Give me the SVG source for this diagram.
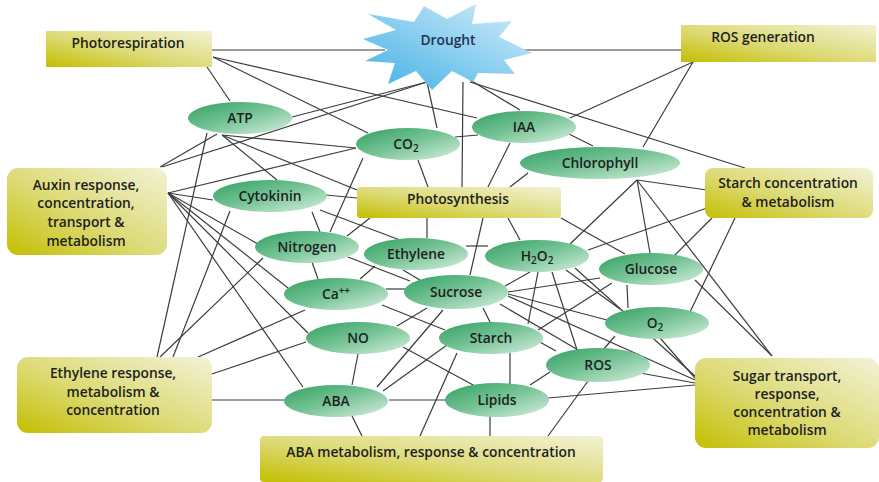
<svg xmlns="http://www.w3.org/2000/svg" width="879" height="482" viewBox="0 0 879 482">
<defs>
<linearGradient id="gBox" x1="0" y1="1" x2="1" y2="0">
<stop offset="0" stop-color="#c4be00"/>
<stop offset="0.45" stop-color="#dcda74"/>
<stop offset="1" stop-color="#f3f2d6"/>
</linearGradient>
<linearGradient id="gEll" x1="0" y1="0" x2="1" y2="1">
<stop offset="0" stop-color="#30a060"/>
<stop offset="0.5" stop-color="#78c497"/>
<stop offset="1" stop-color="#d8f0e0"/>
</linearGradient>
<linearGradient id="gStar" x1="0" y1="1" x2="1" y2="0">
<stop offset="0" stop-color="#3fb0e6"/>
<stop offset="0.5" stop-color="#8ccff0"/>
<stop offset="1" stop-color="#d6eefa"/>
</linearGradient>
</defs>
<style>
.edge line{stroke:#3c3c3c;stroke-width:1.2;fill:none}
.box{fill:url(#gBox)}
.ell{fill:url(#gEll)}
text{font-family:"Open Sans","Noto Sans","Liberation Sans",sans-serif;font-size:13.8px;font-weight:600;fill:#1e1e1e;text-anchor:middle}
.sub{font-size:10px}
</style>
<rect width="879" height="482" fill="#ffffff"/>
<g id="connectors" class="edge">
<line x1="212" y1="50" x2="385" y2="50"/>
<line x1="213" y1="57" x2="477" y2="118"/>
<line x1="213" y1="57" x2="368" y2="133"/>
<line x1="207" y1="67" x2="230" y2="101"/>
<line x1="520" y1="50" x2="681" y2="50"/>
<line x1="427" y1="82" x2="292" y2="117"/>
<line x1="427" y1="82" x2="162" y2="167"/>
<line x1="427" y1="82" x2="437" y2="128"/>
<line x1="470" y1="80" x2="520" y2="110"/>
<line x1="463" y1="82" x2="462" y2="187"/>
<line x1="470" y1="82" x2="745" y2="168"/>
<line x1="693" y1="62" x2="570" y2="118"/>
<line x1="693" y1="62" x2="643" y2="147"/>
<line x1="455" y1="137" x2="478" y2="135"/>
<line x1="567" y1="133" x2="593" y2="146"/>
<line x1="510" y1="143" x2="488" y2="187"/>
<line x1="528" y1="173" x2="510" y2="187"/>
<line x1="637" y1="180" x2="707" y2="190"/>
<line x1="637" y1="180" x2="570" y2="244"/>
<line x1="637" y1="180" x2="650" y2="253"/>
<line x1="637" y1="180" x2="772" y2="356"/>
<line x1="707" y1="208" x2="588" y2="250"/>
<line x1="712" y1="218" x2="673" y2="257"/>
<line x1="735" y1="218" x2="690" y2="312"/>
<line x1="561" y1="218" x2="625" y2="254"/>
<line x1="508" y1="218" x2="520" y2="240"/>
<line x1="483" y1="218" x2="470" y2="275"/>
<line x1="427" y1="218" x2="427" y2="238"/>
<line x1="370" y1="218" x2="347" y2="236"/>
<line x1="418" y1="160" x2="428" y2="187"/>
<line x1="222" y1="135" x2="357" y2="190"/>
<line x1="326" y1="195" x2="357" y2="198"/>
<line x1="222" y1="135" x2="356" y2="148"/>
<line x1="222" y1="135" x2="277" y2="180"/>
<line x1="207" y1="133" x2="157" y2="357"/>
<line x1="160" y1="167" x2="217" y2="134"/>
<line x1="363" y1="158" x2="330" y2="232"/>
<line x1="168" y1="193" x2="356" y2="148"/>
<line x1="168" y1="193" x2="213" y2="200"/>
<line x1="168" y1="193" x2="258" y2="244"/>
<line x1="168" y1="193" x2="288" y2="288"/>
<line x1="168" y1="193" x2="308" y2="333"/>
<line x1="168" y1="193" x2="303" y2="387"/>
<line x1="320" y1="210" x2="400" y2="240"/>
<line x1="312" y1="212" x2="320" y2="232"/>
<line x1="230" y1="211" x2="173" y2="357"/>
<line x1="312" y1="262" x2="318" y2="279"/>
<line x1="348" y1="257" x2="410" y2="281"/>
<line x1="263" y1="258" x2="160" y2="357"/>
<line x1="466" y1="246" x2="488" y2="246"/>
<line x1="375" y1="266" x2="360" y2="279"/>
<line x1="403" y1="270" x2="420" y2="280"/>
<line x1="386" y1="289" x2="405" y2="289"/>
<line x1="382" y1="305" x2="445" y2="330"/>
<line x1="305" y1="310" x2="198" y2="357"/>
<line x1="508" y1="292" x2="600" y2="278"/>
<line x1="505" y1="286" x2="530" y2="272"/>
<line x1="508" y1="294" x2="607" y2="320"/>
<line x1="508" y1="296" x2="695" y2="380"/>
<line x1="500" y1="304" x2="578" y2="350"/>
<line x1="483" y1="308" x2="490" y2="322"/>
<line x1="427" y1="308" x2="397" y2="326"/>
<line x1="443" y1="310" x2="377" y2="387"/>
<line x1="538" y1="272" x2="528" y2="324"/>
<line x1="552" y1="272" x2="577" y2="350"/>
<line x1="566" y1="270" x2="620" y2="309"/>
<line x1="575" y1="268" x2="695" y2="376"/>
<line x1="627" y1="285" x2="628" y2="308"/>
<line x1="612" y1="283" x2="538" y2="330"/>
<line x1="695" y1="280" x2="772" y2="356"/>
<line x1="615" y1="336" x2="603" y2="350"/>
<line x1="660" y1="338" x2="695" y2="378"/>
<line x1="640" y1="373" x2="695" y2="383"/>
<line x1="588" y1="381" x2="548" y2="436"/>
<line x1="550" y1="372" x2="530" y2="385"/>
<line x1="538" y1="341" x2="556" y2="351"/>
<line x1="389" y1="400" x2="446" y2="400"/>
<line x1="510" y1="353" x2="510" y2="384"/>
<line x1="403" y1="347" x2="475" y2="386"/>
<line x1="490" y1="416" x2="490" y2="436"/>
<line x1="548" y1="398" x2="695" y2="385"/>
<line x1="358" y1="354" x2="352" y2="385"/>
<line x1="352" y1="416" x2="362" y2="436"/>
<line x1="212" y1="400" x2="284" y2="400"/>
<line x1="457" y1="353" x2="420" y2="436"/>
<line x1="447" y1="345" x2="383" y2="391"/>
<line x1="306" y1="342" x2="212" y2="374"/>
</g>
<g id="drought">
<polygon fill="url(#gStar)" points="363,39 388,50 365,61 395,63 388,84 416,71 432,90 452,71 473,82 478,73 515,74 504,60 532,53 499,37 512,21 472,24 476,4 447,19 424,6 414,22 368,14 396,30"/>
<text x="448" y="45" style="fill:#1e3350">Drought</text>
</g>
<g id="photorespiration">
<rect class="box" x="46" y="31" width="166" height="36"/>
<text x="128" y="48">Photorespiration</text>
</g>
<g id="ros-generation">
<rect class="box" x="681" y="25" width="195" height="37"/>
<text x="763" y="42">ROS generation</text>
</g>
<g id="auxin">
<rect class="box" x="7" y="168" width="160" height="87" rx="11"/>
<text x="86" y="190">Auxin response,</text>
<text x="86" y="208">concentration,</text>
<text x="86" y="227">transport &amp;</text>
<text x="86" y="246">metabolism</text>
</g>
<g id="photosynthesis">
<rect class="box" x="357" y="187" width="204" height="31" rx="3"/>
<text x="458" y="204">Photosynthesis</text>
</g>
<g id="starch-conc">
<rect class="box" x="705" y="168" width="168" height="50" rx="8"/>
<text x="788" y="188">Starch concentration</text>
<text x="788" y="207">&amp; metabolism</text>
</g>
<g id="ethylene-response">
<rect class="box" x="17" y="357" width="195" height="76" rx="11"/>
<text x="113" y="378">Ethylene response,</text>
<text x="113" y="397">metabolism &amp;</text>
<text x="113" y="415">concentration</text>
</g>
<g id="aba-box">
<rect class="box" x="260" y="436" width="343" height="46" rx="4"/>
<text x="431" y="457">ABA metabolism, response &amp; concentration</text>
</g>
<g id="sugar-transport">
<rect class="box" x="695" y="358" width="184" height="90" rx="11"/>
<text x="787" y="381">Sugar transport,</text>
<text x="787" y="399">response,</text>
<text x="787" y="417">concentration &amp;</text>
<text x="787" y="435">metabolism</text>
</g>
<g id="atp"><ellipse class="ell" cx="240" cy="118" rx="52" ry="16"/><text x="240" y="123">ATP</text></g>
<g id="co2"><ellipse class="ell" cx="408" cy="144" rx="52" ry="16"/><text x="406" y="149">CO<tspan class="sub" dy="3">2</tspan></text></g>
<g id="iaa"><ellipse class="ell" cx="524" cy="127" rx="52" ry="16"/><text x="524" y="132">IAA</text></g>
<g id="chlorophyll"><ellipse class="ell" cx="600" cy="163" rx="80" ry="16"/><text x="600" y="168">Chlorophyll</text></g>
<g id="cytokinin"><ellipse class="ell" cx="270" cy="196" rx="57" ry="16"/><text x="270" y="201">Cytokinin</text></g>
<g id="nitrogen"><ellipse class="ell" cx="307" cy="247" rx="52" ry="16"/><text x="307" y="252">Nitrogen</text></g>
<g id="ethylene"><ellipse class="ell" cx="416" cy="254" rx="52" ry="16"/><text x="416" y="259">Ethylene</text></g>
<g id="h2o2"><ellipse class="ell" cx="537" cy="256" rx="52" ry="16"/><text x="537" y="261">H<tspan class="sub" dy="3">2</tspan><tspan dy="-3">O</tspan><tspan class="sub" dy="3">2</tspan></text></g>
<g id="glucose"><ellipse class="ell" cx="651" cy="269" rx="52" ry="16"/><text x="651" y="274">Glucose</text></g>
<g id="ca"><ellipse class="ell" cx="336" cy="294" rx="52" ry="16"/><text x="336" y="299">Ca<tspan class="sub" dy="-5">++</tspan></text></g>
<g id="sucrose"><ellipse class="ell" cx="456" cy="292" rx="52" ry="17"/><text x="456" y="297">Sucrose</text></g>
<g id="o2"><ellipse class="ell" cx="657" cy="323" rx="52" ry="16"/><text x="655" y="328">O<tspan class="sub" dy="3">2</tspan></text></g>
<g id="no"><ellipse class="ell" cx="358" cy="338" rx="52" ry="16"/><text x="358" y="343">NO</text></g>
<g id="starch"><ellipse class="ell" cx="491" cy="338" rx="52" ry="16"/><text x="491" y="343">Starch</text></g>
<g id="ros"><ellipse class="ell" cx="598" cy="365" rx="52" ry="17"/><text x="598" y="370">ROS</text></g>
<g id="aba"><ellipse class="ell" cx="336" cy="401" rx="52" ry="16"/><text x="336" y="406">ABA</text></g>
<g id="lipids"><ellipse class="ell" cx="497" cy="400" rx="52" ry="17"/><text x="497" y="405">Lipids</text></g>
</svg>
